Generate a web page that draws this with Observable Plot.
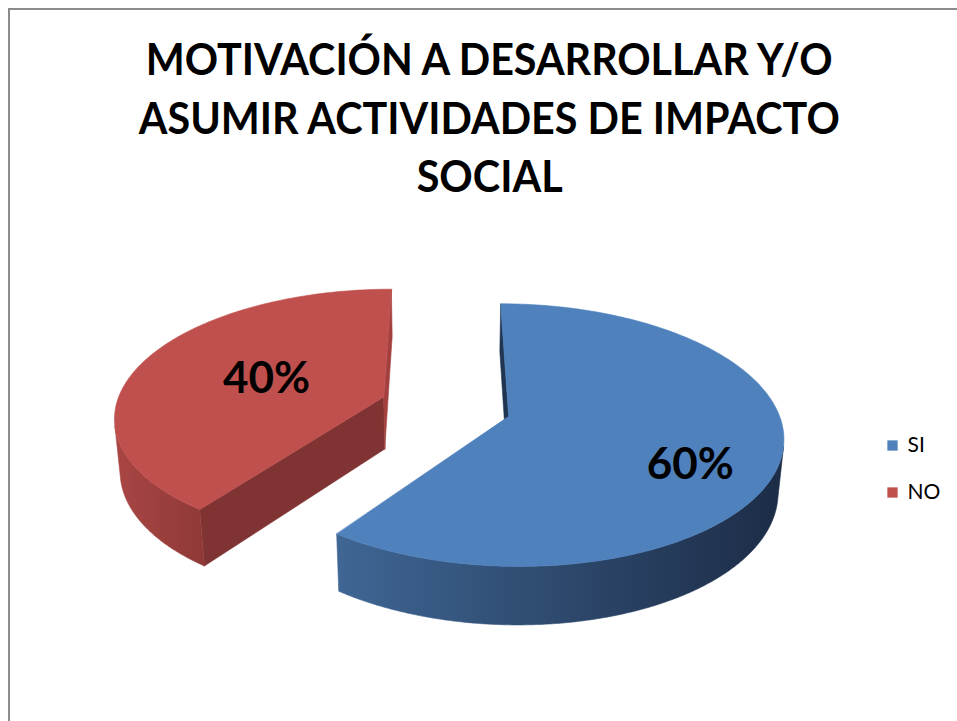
<!DOCTYPE html>
<html><head><meta charset="utf-8">
<script src="https://cdn.jsdelivr.net/npm/d3@7"></script>
<script src="https://cdn.jsdelivr.net/npm/@observablehq/plot@0.6"></script>
<style>
html,body{margin:0;padding:0;background:#fff;overflow:hidden}
#wrap{position:relative;width:957px;height:721px;overflow:hidden;background:#fff}
#border{position:absolute;left:8px;top:8px;width:1200px;height:1000px;border:2px solid #8c8c8c;box-sizing:border-box}
#chart{position:absolute;left:0;top:0}
#title{position:absolute;left:0;top:29px;width:979px;text-align:center;font-family:Lato,"Open Sans",sans-serif;font-weight:700;font-size:44px;line-height:58.5px;color:#000}
#title span{display:inline-block;white-space:nowrap}
</style></head>
<body><div id="wrap"><div id="border"></div><div id="chart"></div><div id="title"></div></div>
<script>
// ---- data ----
const titleLines = ["MOTIVACIÓN A DESARROLLAR Y/O", "ASUMIR ACTIVIDADES DE IMPACTO", "SOCIAL"];
const categories = ["SI", "NO"];
const values = [60, 40];

// ---- style ----
const titleWidths = [687, 701, 146];
const styles = [
  {top:"#4f81bd", sideL:"#3f6694", sideR:"#1c2c46", start:"#1f3552", end:"#1f3552"},
  {top:"#c0504d", sideL:"#a94644", sideR:"#8f3937", start:"#7f3332", end:"#a3403e"}
];
const W = 957, H = 721;
const cam = {cx:445, cy:406, s:268, D:6.18, phi:28*Math.PI/180, h:0.225, explode:0.245};

// ---- title ----
const tdiv = document.getElementById("title");
titleLines.forEach((t,i)=>{
  const line = document.createElement("div");
  const sp = document.createElement("span");
  sp.textContent = t;
  line.appendChild(sp); tdiv.appendChild(line);
  const w = sp.getBoundingClientRect().width;
  sp.style.transform = `scaleX(${titleWidths[i]/w})`;
});

// ---- 3D pie geometry ----
const sn = Math.sin(cam.phi), cs = Math.cos(cam.phi);
const camPos = [0, cam.D*sn, cam.D*cs];
function proj([X,Y,Z]){
  const w = Y*sn + Z*cs, p = cam.D/(cam.D - w);
  return [cam.cx + cam.s*X*p, cam.cy + cam.s*(Z*sn - Y*cs)*p];
}
function visible(n, P){
  return n[0]*(camPos[0]-P[0]) + n[1]*(camPos[1]-P[1]) + n[2]*(camPos[2]-P[2]) > 0;
}
const total = d3.sum(values);
const arcs = d3.pie().sort(null).value(d=>d)(values);
const slices = arcs.map((a,i)=>{
  const mid = (a.startAngle + a.endAngle)/2;
  return {i, a0:a.startAngle, a1:a.endAngle, mid,
    ox: cam.explode*Math.sin(mid), oz: -cam.explode*Math.cos(mid)};
});
const order = slices.slice().sort((p,q)=>p.oz-q.oz); // far first

const rows = [];
let pid = 0;
function addPoly(pts3, fill){
  const id = pid++;
  pts3.forEach(P=>{ const [x,y]=proj(P); rows.push({id, x, y, fill}); });
}
const h = cam.h;
order.forEach(sl=>{
  const st = styles[sl.i];
  const rim = (t,Y)=>[sl.ox+Math.sin(t), Y, sl.oz-Math.cos(t)];
  const ctr = Y=>[sl.ox, Y, sl.oz];
  // radial faces
  const fs = [
    {t:sl.a0, n:[-Math.cos(sl.a0),0,-Math.sin(sl.a0)], c:st.start},
    {t:sl.a1, n:[Math.cos(sl.a1),0,Math.sin(sl.a1)], c:st.end}
  ];
  fs.forEach(f=>{
    const P = [sl.ox+Math.sin(f.t)/2, -h/2, sl.oz-Math.cos(f.t)/2];
    if (visible(f.n, P)) addPoly([ctr(0), rim(f.t,0), rim(f.t,-h), ctr(-h)], f.c);
  });
  // outer side (visible part) as one polygon with a horizontal gradient
  const N = Math.ceil((sl.a1-sl.a0)*180/Math.PI*2);
  const vis = [];
  for (let k=0;k<=N;k++){
    const t = sl.a0 + (sl.a1-sl.a0)*k/N;
    if (visible([Math.sin(t),0,-Math.cos(t)], rim(t,-h/2))) vis.push(t);
  }
  if (vis.length > 1){
    const side = vis.map(t=>rim(t,0)).concat(vis.slice().reverse().map(t=>rim(t,-h)));
    addPoly(side, `url(#side${sl.i})`);
  }
  // top face
  const M = Math.ceil((sl.a1-sl.a0)*180/Math.PI);
  const top = [ctr(0)];
  for (let k=0;k<=M;k++) top.push(rim(sl.a0+(sl.a1-sl.a0)*k/M, 0));
  addPoly(top, st.top);
});

// labels: along the slice bisector (shifted for larger slices)
const labels = slices.map(sl=>{
  const frac = values[sl.i]/total, r = 1.2*frac;
  const ang = sl.mid + (frac-0.4)*Math.PI/3;
  const [x,y] = proj([sl.ox + r*Math.sin(ang), 0, sl.oz - r*Math.cos(ang)]);
  return {x, y, text: Math.round(frac*100) + "%"};
});
// legend
const legend = categories.map((c,i)=>({name:c, color:styles[i].top, x:892, y:445 + i*47}));

const defs = () => {
  const d = d3.create("svg:defs");
  styles.forEach((st,i)=>{
    const g = d.append("linearGradient").attr("id", `side${i}`).attr("x1",0).attr("x2",1).attr("y1",0).attr("y2",0);
    g.append("stop").attr("offset","0%").attr("stop-color", st.sideL);
    g.append("stop").attr("offset","100%").attr("stop-color", st.sideR);
  });
  return d.node();
};

const plot = Plot.plot({
  width: W, height: H, margin: 0,
  x: {domain:[0,W], range:[0,W], axis:null},
  y: {domain:[0,H], range:[0,H], axis:null},
  color: {type:"identity"},
  style: {background:"transparent"},
  marks: [
    defs,
    Plot.line(rows, {x:"x", y:"y", z:"id", fill:"fill", stroke:"fill", strokeWidth:0.6, curve:"linear-closed"}),
    Plot.text(labels, {x:"x", y:"y", text:"text", fontSize:44, fontWeight:700, fontFamily:"Lato, sans-serif", fill:"#000"}),
    Plot.dot(legend, {x:"x", y:"y", symbol:"square", r:5.8, fill:"color", stroke:null}),
    Plot.text(legend, {x:d=>d.x+15, y:"y", text:"name", textAnchor:"start", fontSize:21, fontFamily:"Lato, sans-serif", fill:"#000"})
  ]
});
document.getElementById("chart").appendChild(plot);
</script>
</body></html>
